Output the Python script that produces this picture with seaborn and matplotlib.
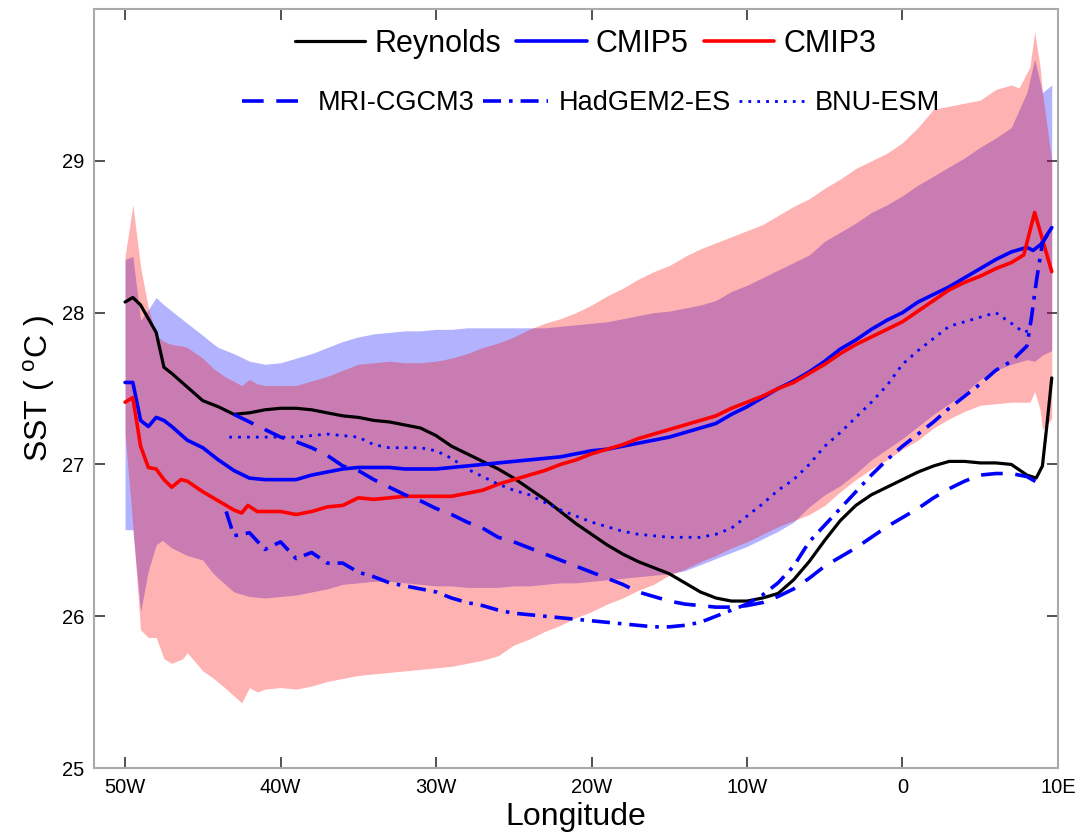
import numpy as np
import pandas as pd
import seaborn as sns
import matplotlib.pyplot as plt
from matplotlib.lines import Line2D

sns.set_style('ticks')
plt.rcParams['font.family'] = ['Liberation Sans', 'DejaVu Sans']
plt.rcParams['mathtext.fontset'] = 'custom'
plt.rcParams['mathtext.rm'] = 'Liberation Sans'
plt.rcParams['text.color'] = 'black'
plt.rcParams['axes.labelcolor'] = 'black'

# ---- data (longitude in deg, negative = W) ----
rey_lon = [-50, -49.5, -49, -48, -47.5, -47, -46, -45, -44, -43, -42, -41, -40, -39, -38, -37,
           -36, -35, -34, -33, -32, -31, -30, -29, -28, -27, -26, -25, -24, -23, -22, -21,
           -20, -19, -18, -17, -16, -15, -14, -13, -12, -11, -10, -9, -8, -7, -6, -5, -4,
           -3, -2, -1, 0, 1, 2, 3, 4, 5, 6, 7, 8, 8.6, 9.0, 9.3, 9.6]
rey_sst = [28.07, 28.10, 28.05, 27.87, 27.64, 27.60, 27.51, 27.42, 27.38, 27.33, 27.34, 27.36,
           27.37, 27.37, 27.36, 27.34, 27.32, 27.31, 27.29, 27.28, 27.26, 27.24, 27.19, 27.12,
           27.07, 27.02, 26.97, 26.91, 26.84, 26.77, 26.69, 26.61, 26.54, 26.47, 26.41, 26.36,
           26.32, 26.28, 26.22, 26.16, 26.12, 26.10, 26.10, 26.12, 26.15, 26.24, 26.36, 26.50,
           26.63, 26.73, 26.80, 26.85, 26.90, 26.95, 26.99, 27.02, 27.02, 27.01, 27.01, 27.00,
           26.93, 26.91, 26.99, 27.27, 27.57]

c5_lon = [-50, -49.5, -49, -48.5, -48, -47.5, -47, -46, -45, -44, -43, -42, -41, -40, -39, -38,
          -37, -36, -35, -34, -33, -32, -31, -30, -29, -28, -27, -26, -25, -24, -23, -22, -21,
          -20, -19, -18, -17, -16, -15, -14, -13, -12, -11, -10, -9, -8, -7, -6, -5, -4, -3,
          -2, -1, 0, 1, 2, 3, 4, 5, 6, 7, 8, 8.4, 8.9, 9.6]
c5_sst = [27.54, 27.54, 27.29, 27.25, 27.31, 27.29, 27.25, 27.16, 27.11, 27.03, 26.96, 26.91,
          26.90, 26.90, 26.90, 26.93, 26.95, 26.97, 26.98, 26.98, 26.98, 26.97, 26.97, 26.97,
          26.98, 26.99, 27.00, 27.01, 27.02, 27.03, 27.04, 27.05, 27.07, 27.09, 27.10, 27.12,
          27.14, 27.16, 27.18, 27.21, 27.24, 27.27, 27.33, 27.38, 27.44, 27.50, 27.55, 27.61,
          27.68, 27.76, 27.82, 27.89, 27.95, 28.00, 28.07, 28.12, 28.17, 28.23, 28.29, 28.35,
          28.40, 28.43, 28.41, 28.45, 28.56]

c3_lon = [-50, -49.5, -49, -48.5, -48, -47.5, -47, -46.4, -46, -45, -44, -43, -42.5, -42.1,
          -41.5, -41, -40, -39, -38, -37, -36, -35, -34, -33, -32, -31, -30, -29, -28, -27,
          -26, -25, -24, -23, -22, -21, -20, -19, -18, -17, -16, -15, -14, -13, -12, -11, -10,
          -9, -8, -7, -6, -5, -4, -3, -2, -1, 0, 1, 2, 3, 4, 5, 6, 7, 7.8, 8.5, 9.6]
c3_sst = [27.41, 27.44, 27.12, 26.98, 26.97, 26.90, 26.85, 26.90, 26.89, 26.82, 26.76, 26.70,
          26.68, 26.73, 26.69, 26.69, 26.69, 26.67, 26.69, 26.72, 26.73, 26.78, 26.77, 26.78,
          26.79, 26.79, 26.79, 26.79, 26.81, 26.83, 26.87, 26.90, 26.93, 26.96, 27.00, 27.03,
          27.07, 27.10, 27.13, 27.17, 27.20, 27.23, 27.26, 27.29, 27.32, 27.37, 27.41, 27.45,
          27.50, 27.54, 27.60, 27.66, 27.73, 27.79, 27.84, 27.89, 27.94, 28.01, 28.08, 28.15,
          28.20, 28.24, 28.29, 28.33, 28.38, 28.66, 28.27]

mri_lon = [-43, -42, -41, -40, -39, -38, -37, -36, -35, -34, -33, -32, -31, -30, -29, -28, -27,
           -26, -25, -24, -23, -22, -21, -20, -19, -18, -17, -16, -15, -14, -13, -12, -11, -10,
           -9, -8, -7, -6, -5, -4, -3, -2, -1, 0, 1, 2, 3, 4, 5, 6, 7, 8, 9.2]
mri_sst = [27.33, 27.28, 27.23, 27.18, 27.15, 27.11, 27.06, 26.99, 26.96, 26.90, 26.85, 26.80,
           26.76, 26.71, 26.67, 26.62, 26.58, 26.52, 26.49, 26.45, 26.41, 26.37, 26.33, 26.29,
           26.25, 26.21, 26.16, 26.13, 26.10, 26.08, 26.07, 26.06, 26.06, 26.07, 26.09, 26.13,
           26.18, 26.25, 26.33, 26.39, 26.45, 26.52, 26.59, 26.65, 26.71, 26.78, 26.84, 26.89,
           26.93, 26.94, 26.94, 26.92, 26.85]

had_lon = [-43.5, -43, -42, -41, -40, -39, -38, -37, -36, -35, -34, -33, -32, -31, -30, -29,
           -28, -27, -26, -25, -24, -23, -22, -21, -20, -19, -18, -17, -16, -15, -14, -13, -12,
           -11, -10, -9, -8, -7, -6, -5, -4, -3, -2, -1, 0, 1, 2, 3, 4, 5, 6, 7, 8, 8.3, 8.6,
           9.0, 9.6]
had_sst = [26.69, 26.53, 26.55, 26.44, 26.49, 26.38, 26.42, 26.35, 26.35, 26.29, 26.26, 26.22,
           26.20, 26.18, 26.16, 26.12, 26.09, 26.07, 26.04, 26.02, 26.01, 26.00, 25.99, 25.98,
           25.97, 25.96, 25.95, 25.94, 25.93, 25.93, 25.94, 25.96, 26.00, 26.04, 26.08, 26.14,
           26.22, 26.33, 26.49, 26.60, 26.71, 26.82, 26.93, 27.03, 27.12, 27.20, 27.28, 27.37,
           27.45, 27.53, 27.62, 27.68, 27.78, 27.97, 28.20, 28.46, 28.56]

bnu_lon = [-43.3, -42, -41, -40, -39, -38, -37, -36, -35, -34, -33, -32, -31, -30, -29, -28, -27,
           -26, -25, -24, -23, -22, -21, -20, -19, -18, -17, -16, -15, -14, -13, -12, -11, -10,
           -9, -8, -7, -6, -5, -4, -3, -2, -1, 0, 1, 2, 3, 4, 5, 6, 7, 7.8, 8.3]
bnu_sst = [27.18, 27.18, 27.18, 27.18, 27.18, 27.19, 27.20, 27.19, 27.18, 27.13, 27.11, 27.11,
           27.11, 27.09, 27.04, 26.97, 26.92, 26.87, 26.83, 26.80, 26.75, 26.70, 26.66, 26.62,
           26.59, 26.56, 26.54, 26.53, 26.52, 26.52, 26.52, 26.54, 26.58, 26.66, 26.74, 26.83,
           26.90, 27.00, 27.12, 27.21, 27.31, 27.41, 27.52, 27.66, 27.75, 27.83, 27.91, 27.94,
           27.97, 28.00, 27.93, 27.87, 27.89]

# CMIP5 spread (blue band)
b5_lon = [-50, -49.5, -49, -48.5, -48, -47.6, -47, -46, -45, -44.4, -44, -43, -42, -41, -40,
          -39, -38, -37, -36, -35, -34, -33, -32, -31, -30, -29, -28, -27, -26, -25, -24, -23,
          -22, -21, -20, -19, -18, -17, -16, -15, -14, -13, -12, -11, -10, -9, -8, -7, -6, -5,
          -4, -3, -2, -1, 0, 1, 2, 3, 4, 5, 6, 7, 8, 8.5, 9, 9.6]
b5_hi = [28.35, 28.37, 27.95, 28.02, 28.10, 28.06, 28.01, 27.93, 27.85, 27.80, 27.77, 27.73,
         27.68, 27.66, 27.67, 27.70, 27.73, 27.77, 27.81, 27.84, 27.86, 27.87, 27.88, 27.88,
         27.89, 27.89, 27.90, 27.90, 27.90, 27.90, 27.90, 27.90, 27.91, 27.92, 27.93, 27.94,
         27.96, 27.98, 28.00, 28.01, 28.03, 28.05, 28.08, 28.14, 28.18, 28.23, 28.28, 28.33,
         28.38, 28.47, 28.53, 28.59, 28.66, 28.71, 28.77, 28.84, 28.90, 28.96, 29.02, 29.09,
         29.15, 29.22, 29.45, 29.67, 29.45, 29.50]
b5_lo = [26.57, 26.57, 26.03, 26.30, 26.47, 26.50, 26.45, 26.40, 26.37, 26.29, 26.25, 26.16,
         26.13, 26.12, 26.13, 26.14, 26.16, 26.18, 26.21, 26.22, 26.23, 26.23, 26.22, 26.21,
         26.20, 26.20, 26.19, 26.19, 26.19, 26.20, 26.20, 26.21, 26.22, 26.22, 26.23, 26.24,
         26.25, 26.26, 26.27, 26.28, 26.30, 26.34, 26.38, 26.42, 26.46, 26.51, 26.56, 26.62,
         26.72, 26.80, 26.86, 26.94, 27.03, 27.10, 27.17, 27.25, 27.33, 27.40, 27.47, 27.56,
         27.62, 27.66, 27.69, 27.68, 27.72, 27.75]

# CMIP3 spread (red band)
b3_lon = [-50, -49.5, -49, -48.5, -48, -47.5, -47, -46.3, -46, -45, -44.3, -43.6, -42.5, -42,
          -41.5, -41, -40, -39, -38, -37, -36, -35, -34, -33, -32, -31, -30, -29, -28, -27,
          -26, -25, -24, -23, -22, -21, -20, -19, -18, -17, -16, -15, -14, -13, -12, -11, -10,
          -9, -8, -7, -6, -5, -4, -3, -2, -1, 0, 1, 2, 3, 4, 5, 6, 7, 7.5, 8.2, 8.5, 8.85,
          9.0, 9.6]
b3_hi = [28.37, 28.71, 28.30, 28.03, 27.85, 27.81, 27.79, 27.78, 27.77, 27.70, 27.63, 27.58,
         27.52, 27.56, 27.53, 27.52, 27.52, 27.52, 27.55, 27.58, 27.62, 27.66, 27.67, 27.68,
         27.67, 27.67, 27.68, 27.70, 27.73, 27.77, 27.80, 27.84, 27.89, 27.93, 27.96, 28.00,
         28.05, 28.11, 28.16, 28.22, 28.27, 28.31, 28.37, 28.42, 28.46, 28.50, 28.54, 28.58,
         28.64, 28.70, 28.75, 28.82, 28.88, 28.95, 29.00, 29.05, 29.12, 29.22, 29.34, 29.36,
         29.38, 29.40, 29.47, 29.50, 29.48, 29.62, 29.85, 29.62, 29.45, 29.00]
b3_lo = [27.20, 26.60, 25.91, 25.86, 25.86, 25.72, 25.69, 25.72, 25.76, 25.64, 25.59, 25.53,
         25.43, 25.53, 25.50, 25.52, 25.53, 25.52, 25.54, 25.57, 25.59, 25.61, 25.62, 25.63,
         25.64, 25.65, 25.66, 25.67, 25.69, 25.71, 25.74, 25.81, 25.85, 25.90, 25.94, 25.99,
         26.03, 26.08, 26.12, 26.17, 26.21, 26.27, 26.31, 26.36, 26.40, 26.45, 26.49, 26.54,
         26.59, 26.63, 26.67, 26.73, 26.82, 26.90, 26.97, 27.03, 27.10, 27.16, 27.24, 27.30,
         27.35, 27.39, 27.40, 27.41, 27.41, 27.41, 27.48, 27.36, 27.23, 27.30]

xtick_vals = [-50, -40, -30, -20, -10, 0, 10]
xtick_labels = ['50W', '40W', '30W', '20W', '10W', '0', '10E']
ytick_vals = [25, 26, 27, 28, 29, 30]
ytick_labels = ['25', '26', '27', '28', '29', '']

# ---- figure ----
fig = plt.figure(figsize=(10.8, 8.39), dpi=100)
ax = fig.add_axes([0.0870, 0.0846, 0.8926, 0.9046])

ax.fill_between(b5_lon, b5_lo, b5_hi, color='blue', alpha=0.3, lw=0)
ax.fill_between(b3_lon, b3_lo, b3_hi, color='red', alpha=0.3, lw=0)

lines = [
    ('Reynolds', rey_lon, rey_sst, 'black', '-', 2.3),
    ('CMIP5', c5_lon, c5_sst, 'blue', '-', 2.6),
    ('CMIP3', c3_lon, c3_sst, 'red', '-', 2.6),
    ('MRI-CGCM3', mri_lon, mri_sst, 'blue', (0, (6, 3.5)), 2.6),
    ('HadGEM2-ES', had_lon, had_sst, 'blue', (0, (5, 2.2, 1, 2.2)), 2.6),
    ('BNU-ESM', bnu_lon, bnu_sst, 'blue', (0, (1, 2.2)), 2.0),
]
for name, lon, sst, col, ls, lw in lines:
    df = pd.DataFrame({'lon': lon, 'sst': sst})
    sns.lineplot(data=df, x='lon', y='sst', ax=ax, color=col, lw=lw,
                 linestyle=ls, estimator=None, sort=False)

ax.set_xlim(-52, 10)
ax.set_ylim(25, 30)
ax.set_xticks(xtick_vals)
ax.set_xticklabels(xtick_labels)
ax.set_yticks(ytick_vals)
ax.set_yticklabels(ytick_labels)
ax.tick_params(direction='in', length=8, width=1.2, color='#333333', labelcolor='black',
               labelsize=14.5, top=True, right=True, pad=7)
for sp in ax.spines.values():
    sp.set_color('#aaaaaa')
    sp.set_linewidth(1.5)

ax.set_xlabel('Longitude', fontsize=23, labelpad=4, color='black')
ax.set_ylabel('SST ( $^{\\mathrm{o}}$C )', fontsize=23, color='black')
ax.yaxis.set_label_coords(-0.038, 0.5)

h1 = [Line2D([], [], color=c, lw=lw, linestyle=ls) for _, _, _, c, ls, lw in lines[:3]]
h2 = [Line2D([], [], color=c, lw=lw, linestyle=ls) for _, _, _, c, ls, lw in lines[3:]]
leg1 = ax.legend(h1, [l[0] for l in lines[:3]], loc='center', bbox_to_anchor=(0.51, 0.954),
                 ncol=3, frameon=False, fontsize=22, handlelength=2.3, handletextpad=0.3,
                 columnspacing=0.5)
ax.add_artist(leg1)
leg2 = ax.legend(h2, [l[0] for l in lines[3:]], loc='center', bbox_to_anchor=(0.516, 0.876),
                 ncol=3, frameon=False, fontsize=19.5, handlelength=2.4, handletextpad=0.4,
                 columnspacing=0.3)
for t in leg1.get_texts() + leg2.get_texts():
    t.set_color('black')

fig.savefig('out.png', dpi=100)
